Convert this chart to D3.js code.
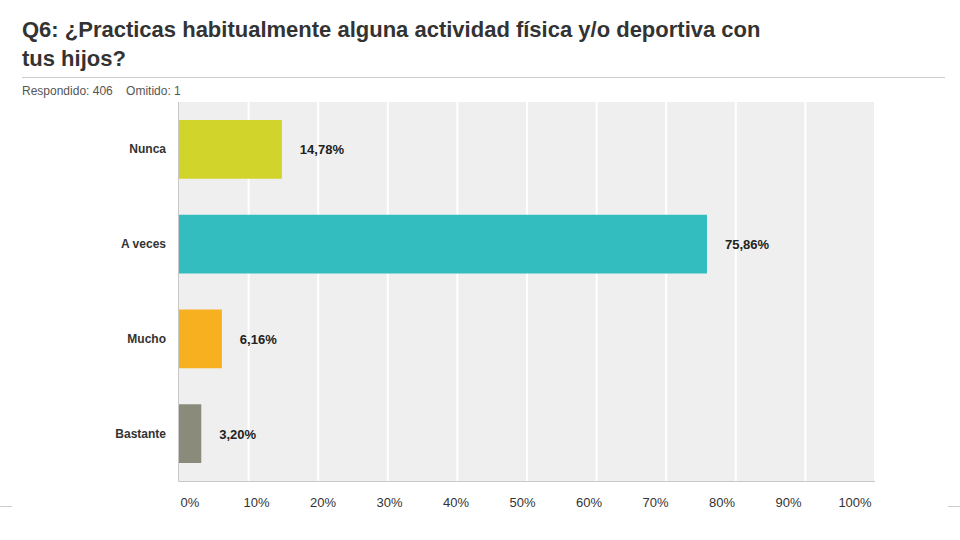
<!DOCTYPE html>
<html><head><meta charset="utf-8">
<script src="https://cdn.jsdelivr.net/npm/d3@7"></script>
<style>body{margin:0;background:#fff}</style>
</head><body>
<svg id="chart" width="960" height="540"></svg>
<script>
const categories = ["Nunca", "A veces", "Mucho", "Bastante"];
const values = [14.78, 75.86, 6.16, 3.20];
const colors = ["#d0d42b", "#33bdbf", "#f7b120", "#8b8b7b"];
const ticks = [0, 10, 20, 30, 40, 50, 60, 70, 80, 90, 100];

const svg = d3.select("#chart");
const font = "Arial, 'Liberation Sans', sans-serif";

// title block
svg.append("text").attr("x", 22).attr("y", 37)
    .attr("font-family", font).attr("font-size", 22).attr("font-weight", "bold").attr("fill", "#333")
    .text("Q6: ¿Practicas habitualmente alguna actividad física y/o deportiva con");
svg.append("text").attr("x", 22).attr("y", 66)
    .attr("font-family", font).attr("font-size", 22).attr("font-weight", "bold").attr("fill", "#333")
    .text("tus hijos?");
svg.append("line").attr("x1", 22).attr("x2", 945).attr("y1", 77.5).attr("y2", 77.5).attr("stroke", "#ccc");
svg.append("text").attr("x", 22).attr("y", 95)
    .attr("font-family", font).attr("font-size", 12).attr("fill", "#555")
    .text("Respondido: 406\u00a0\u00a0\u00a0\u00a0Omitido: 1");

const x = d3.scaleLinear().domain([0, 100]).range([179, 875]);
const y = d3.scaleBand().domain(categories).range([102, 481]).paddingInner(0.38).paddingOuter(0.19);

svg.append("rect").attr("x", 179).attr("y", 102).attr("width", 696).attr("height", 379).attr("fill", "#efefef");

svg.append("g").selectAll("line").data(ticks.slice(1)).join("line")
    .attr("x1", d => x(d)).attr("x2", d => x(d)).attr("y1", 102).attr("y2", 481)
    .attr("stroke", "#fff").attr("stroke-width", 2);

svg.append("line").attr("x1", 178.5).attr("x2", 178.5).attr("y1", 102).attr("y2", 481.5).attr("stroke", "#c8c8c8");
svg.append("line").attr("x1", 178.5).attr("x2", 875).attr("y1", 481.5).attr("y2", 481.5).attr("stroke", "#c8c8c8");

svg.append("g").selectAll("rect").data(values).join("rect")
    .attr("x", x(0)).attr("y", (d, i) => y(categories[i]))
    .attr("width", d => x(d) - x(0)).attr("height", y.bandwidth())
    .attr("fill", (d, i) => colors[i]);

svg.append("g").selectAll("text").data(values).join("text")
    .attr("x", d => x(d) + 18).attr("y", (d, i) => y(categories[i]) + y.bandwidth() / 2 + 5)
    .attr("font-family", font).attr("font-size", 13).attr("font-weight", "bold").attr("fill", "#222")
    .text(d => d.toFixed(2).replace(".", ",") + "%");

svg.append("g").selectAll("text").data(categories).join("text")
    .attr("x", 166).attr("y", d => y(d) + y.bandwidth() / 2 + 4)
    .attr("text-anchor", "end")
    .attr("font-family", font).attr("font-size", 12).attr("font-weight", "bold").attr("fill", "#333")
    .text(d => d);

// tick labels sit on their own slightly narrower spacing
const xl = d3.scaleLinear().domain([0, 100]).range([190, 855]);
svg.append("g").selectAll("text").data(ticks).join("text")
    .attr("x", d => xl(d)).attr("y", 507).attr("text-anchor", "middle")
    .attr("font-family", font).attr("font-size", 13).attr("fill", "#333")
    .text(d => d + "%");

svg.append("line").attr("x1", 0).attr("x2", 12).attr("y1", 506.5).attr("y2", 506.5).attr("stroke", "#ccc");
svg.append("line").attr("x1", 948).attr("x2", 960).attr("y1", 506.5).attr("y2", 506.5).attr("stroke", "#ccc");
</script>
</body></html>
